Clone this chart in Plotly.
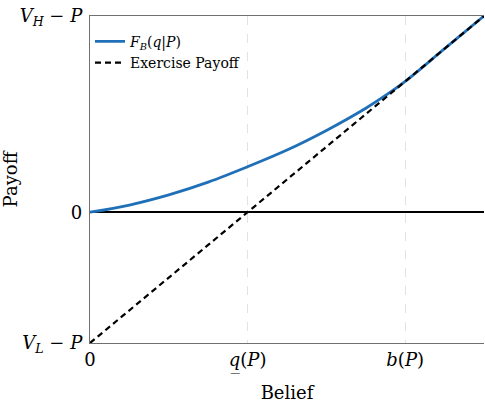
import plotly.graph_objects as go

# Data
belief = [0.0, 0.1, 0.2, 0.3, 0.4, 0.5, 0.6, 0.7, 0.75, 0.8, 0.9, 1.0]
fb_value = [0.0, 0.022, 0.053, 0.092, 0.139, 0.190, 0.250, 0.318, 0.357, 0.400, 0.500, 0.600]
exercise_x = [0.0, 1.0]
exercise_y = [-0.4, 0.6]

x_tickvals = [0.0, 0.4, 0.8]
x_ticktext = ["0", "<i>q\u0332</i>(<i>P</i>)", "<i>b</i>(<i>P</i>)"]
y_tickvals = [-0.4, 0.0, 0.6]
y_ticktext = ["<i>V</i><sub><i>L</i></sub> − <i>P</i>", "0",
              "<i>V</i><sub><i>H</i></sub> − <i>P</i>"]

serif = "DejaVu Serif, Liberation Serif, serif"

fig = go.Figure()
fig.add_trace(go.Scatter(
    x=belief, y=fb_value, mode="lines", line_shape="spline",
    line=dict(color="#1f70b8", width=2.8),
    name="<i>F</i><sub><i>B</i></sub>(<i>q</i>|<i>P</i>)",
))
fig.add_trace(go.Scatter(
    x=exercise_x, y=exercise_y, mode="lines",
    line=dict(color="black", width=2.2, dash="6px,4px"),
    name="Exercise Payoff",
))

fig.update_layout(
    width=485, height=408,
    margin=dict(l=90, r=1, t=16, b=65),
    plot_bgcolor="white", paper_bgcolor="white",
    font=dict(family=serif, color="black", size=18),
    showlegend=True,
    legend=dict(x=0.0, y=0.97, xanchor="left", yanchor="top",
                bgcolor="rgba(255,255,255,0)", borderwidth=0,
                font=dict(size=14, family=serif), tracegroupgap=0,
                itemwidth=30),
    xaxis=dict(
        range=[0, 1], tickvals=x_tickvals, ticktext=x_ticktext,
        showgrid=True, gridcolor="#e2e2e2", griddash="dash", gridwidth=1,
        zeroline=False, showline=True, linecolor="#707070", linewidth=1.2,
        mirror=True, ticks="", tickfont=dict(size=18), automargin=False,
        ticklabeloverflow="allow",
        title=dict(text="Belief", font=dict(size=18), standoff=12),
    ),
    yaxis=dict(
        range=[-0.4, 0.6], tickvals=y_tickvals, ticktext=y_ticktext,
        showgrid=False, zeroline=True, zerolinecolor="black", zerolinewidth=1.6,
        showline=True, linecolor="#707070", linewidth=1.2, mirror=False,
        ticks="", tickfont=dict(size=18), automargin=False, ticklabelstandoff=3,
        ticklabeloverflow="allow",
        title=dict(text="Payoff", font=dict(size=18), standoff=6),
    ),
)

fig.write_html("out.html",
               config={"displayModeBar": False},
               post_script="document.body.style.margin='0px';"
                           "document.body.style.overflow='hidden';")
